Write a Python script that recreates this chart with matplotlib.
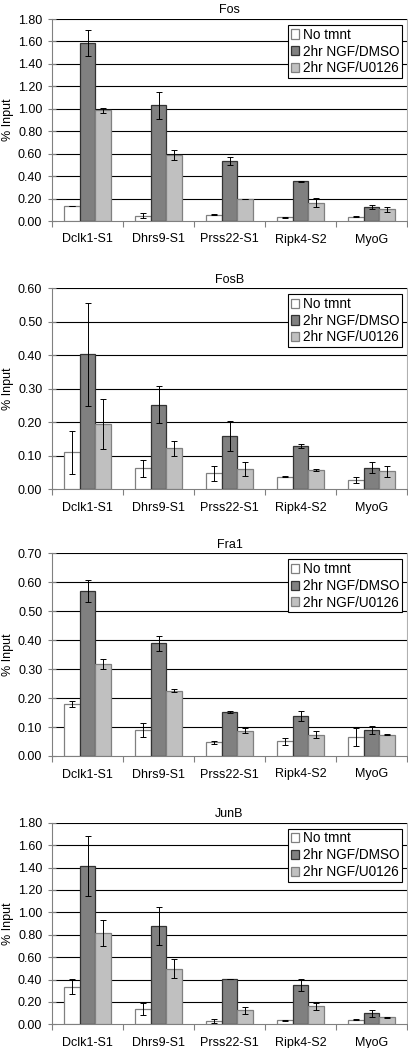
import matplotlib
matplotlib.use("Agg")
import matplotlib.pyplot as plt
import numpy as np
from matplotlib.ticker import FixedLocator, FormatStrFormatter

plt.rcParams['font.family'] = ['Liberation Sans', 'DejaVu Sans']
plt.rcParams['font.size'] = 8

sites = ["Dclk1-S1", "Dhrs9-S1", "Prss22-S1", "Ripk4-S2", "MyoG"]
series_names = ["No tmnt", "2hr NGF/DMSO", "2hr NGF/U0126"]

# Fos
fos_none = [0.134, 0.048, 0.057, 0.033, 0.039]
fos_none_err = [0.0, 0.02, 0.005, 0.003, 0.002]
fos_dmso = [1.583, 1.03, 0.537, 0.352, 0.128]
fos_dmso_err = [0.116, 0.12, 0.036, 0.006, 0.018]
fos_u0126 = [0.985, 0.585, 0.197, 0.164, 0.104]
fos_u0126_err = [0.024, 0.045, 0.0, 0.042, 0.021]

# FosB
fosb_none = [0.11, 0.063, 0.048, 0.038, 0.028]
fosb_none_err = [0.065, 0.025, 0.022, 0.002, 0.008]
fosb_dmso = [0.403, 0.253, 0.158, 0.128, 0.065]
fosb_dmso_err = [0.153, 0.056, 0.045, 0.006, 0.016]
fosb_u0126 = [0.195, 0.122, 0.06, 0.057, 0.054]
fosb_u0126_err = [0.076, 0.023, 0.021, 0.003, 0.016]

# Fra1
fra1_none = [0.18, 0.089, 0.047, 0.051, 0.064]
fra1_none_err = [0.01, 0.024, 0.004, 0.012, 0.031]
fra1_dmso = [0.57, 0.389, 0.152, 0.138, 0.09]
fra1_dmso_err = [0.039, 0.026, 0.002, 0.017, 0.013]
fra1_u0126 = [0.317, 0.225, 0.087, 0.074, 0.074]
fra1_u0126_err = [0.017, 0.005, 0.008, 0.011, 0.002]

# JunB
junb_none = [0.337, 0.133, 0.03, 0.036, 0.041]
junb_none_err = [0.068, 0.053, 0.018, 0.004, 0.003]
junb_dmso = [1.415, 0.876, 0.405, 0.352, 0.098]
junb_dmso_err = [0.27, 0.17, 0.003, 0.053, 0.031]
junb_u0126 = [0.814, 0.497, 0.124, 0.16, 0.062]
junb_u0126_err = [0.118, 0.084, 0.03, 0.033, 0.005]

panels = [
    ("Fos", [fos_none, fos_dmso, fos_u0126], [fos_none_err, fos_dmso_err, fos_u0126_err], 1.8, 0.2, 19, 221),
    ("FosB", [fosb_none, fosb_dmso, fosb_u0126], [fosb_none_err, fosb_dmso_err, fosb_u0126_err], 0.6, 0.1, 288.3, 489.3),
    ("Fra1", [fra1_none, fra1_dmso, fra1_u0126], [fra1_none_err, fra1_dmso_err, fra1_u0126_err], 0.7, 0.1, 553.3, 756),
    ("JunB", [junb_none, junb_dmso, junb_u0126], [junb_none_err, junb_dmso_err, junb_u0126_err], 1.8, 0.2, 822.7, 1024.3),
]

face_colors = ["#ffffff", "#808080", "#c0c0c0"]
edge_colors = ["#808080", "#333333", "#808080"]

W, H = 408, 1048
fig = plt.figure(figsize=(W / 100, H / 100), dpi=100)

x = np.arange(len(sites))
bw = 0.225
for title, vals, errs, ymax, step, top_px, bot_px in panels:
    ax = fig.add_axes([52 / W, 1 - bot_px / H, 355 / W, (bot_px - top_px) / H])
    for i in range(3):
        ax.bar(x + (i - 1) * bw, vals[i], bw, color=face_colors[i], edgecolor=edge_colors[i],
               linewidth=0.9, label=series_names[i], zorder=3)
        ax.errorbar(x + (i - 1) * bw, vals[i], yerr=errs[i], fmt='none', ecolor='black',
                    elinewidth=0.7, capsize=2.2, capthick=0.7, zorder=4)
    ax.set_xlim(-0.5, len(sites) - 0.5)
    ax.set_ylim(0, ymax)
    yt = np.arange(0, ymax + step / 2, step)
    ax.set_yticks(yt)
    ax.yaxis.set_major_formatter(FormatStrFormatter('%.2f'))
    for t in yt[1:]:
        ax.axhline(t, color='black', linewidth=0.8, zorder=1)
    ax.set_xticks(x)
    ax.set_xticklabels(sites)
    ax.xaxis.set_minor_locator(FixedLocator(np.arange(-0.5, len(sites), 1.0)))
    ax.tick_params(axis='x', which='major', length=0, pad=9, labelsize=9)
    ax.tick_params(axis='x', which='minor', length=4, direction='out', color='#808080', width=0.8)
    ax.tick_params(axis='y', which='major', length=6, direction='inout', color='#808080',
                   width=0.8, pad=4, labelsize=9)
    ax.spines['top'].set_visible(False)
    ax.spines['left'].set_color('#808080')
    ax.spines['bottom'].set_color('#808080')
    ax.spines['right'].set_color('#b0b0b0')
    for s in ax.spines.values():
        s.set_linewidth(0.8)
    ax.set_title(title, fontsize=9, pad=4)
    ax.set_ylabel("% Input", fontsize=9)
    ax.yaxis.set_label_coords(-0.108, 0.5)
    leg = ax.legend(loc='upper right', bbox_to_anchor=(0.986, 0.97), borderaxespad=0,
                    fancybox=False, edgecolor='black', framealpha=1, fontsize=9.8,
                    handlelength=0.65, handleheight=0.65, handletextpad=0.25,
                    labelspacing=0.2, borderpad=0.2)
    leg.get_frame().set_linewidth(0.8)
    leg.set_zorder(5)

fig.savefig("out.png", dpi=100)
